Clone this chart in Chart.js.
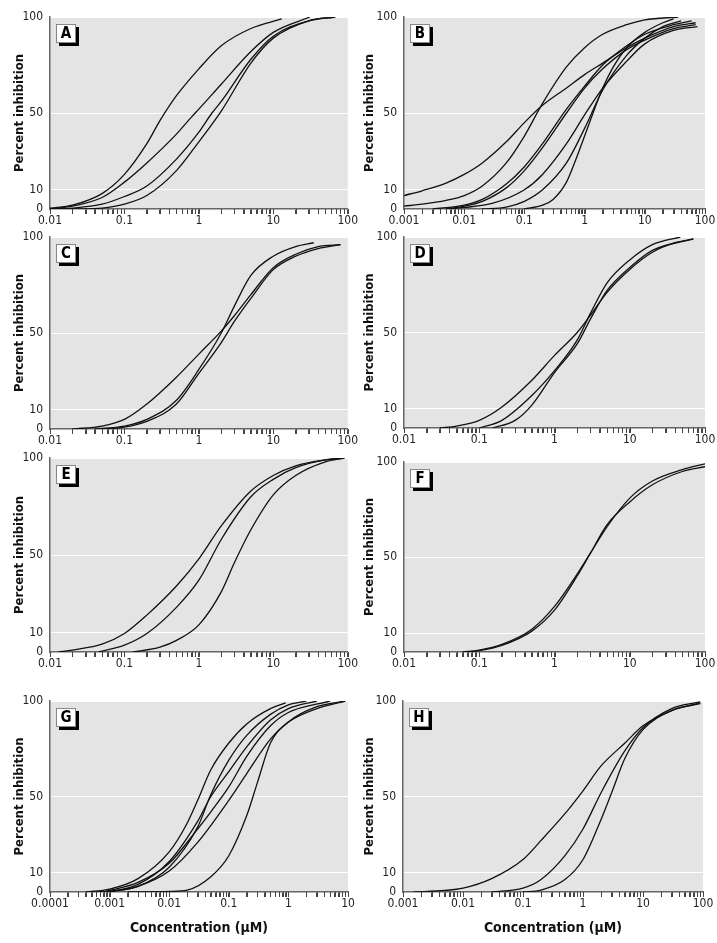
<!DOCTYPE html>
<html>
<head>
<meta charset="utf-8">
<script src="https://cdn.jsdelivr.net/npm/chart.js@4.4.0/dist/chart.umd.min.js"></script>
<style>
  body { margin: 0; background: #fff; }
  #fig { position: relative; width: 717px; height: 943px; }
  #fig canvas { position: absolute; }
</style>
</head>
<body>
<div id="fig"></div>
<script>
// tick labels (decades) for each panel's x axis, and the y ticks
const yTicks = [0, 10, 50, 100];
const xTicksA = [0.01, 0.1, 1, 10, 100];
const xTicksB = [0.001, 0.01, 0.1, 1, 10, 100];
const xTicksG = [0.0001, 0.001, 0.01, 0.1, 1, 10];

// each curve is [concentration (uM), percent inhibition]
const curvesA = [
  [[0.01,0.5],[0.02,2],[0.05,8],[0.1,18],[0.2,34],[0.3,46],[0.5,59],[1,73],[2,85],[5,94],[13,99]],
  [[0.01,0],[0.02,1.5],[0.05,6],[0.1,14],[0.2,24],[0.5,39],[0.8,48],[1,52],[2,65],[5,82],[10,92],[31,100]],
  [[0.01,0],[0.02,0.5],[0.05,2.5],[0.1,6.5],[0.2,12],[0.5,26],[1,40],[1.5,50],[2,56],[5,78],[10,90],[30,98],[68,100]],
  [[0.02,0],[0.05,0.5],[0.1,2.5],[0.2,7],[0.5,20],[1,35],[2,51],[5,76],[10,89],[30,98],[68,100]]
];
const curvesB = [
  [[0.001,7],[0.002,9.5],[0.005,13.5],[0.01,18],[0.02,24],[0.05,35],[0.1,45],[0.2,54],[0.5,63],[1,70],[2,76],[5,84],[10,89],[30,95],[70,97]],
  [[0.001,1.5],[0.002,2.5],[0.005,4.5],[0.01,7],[0.02,12],[0.05,24],[0.1,38],[0.2,55],[0.5,74],[1,84],[2,91],[5,96],[10,98.5],[36,100]],
  [[0.003,0],[0.01,2],[0.02,5],[0.05,13],[0.1,22],[0.2,34],[0.5,52],[1,64],[2,75],[5,85],[10,91],[30,96],[60,98]],
  [[0.005,0],[0.01,1.5],[0.02,4],[0.05,11],[0.1,20],[0.2,32],[0.5,50],[1,63],[2,73],[5,83],[10,88],[30,94],[70,96]],
  [[0.005,0],[0.01,0.8],[0.03,3],[0.1,10],[0.2,18],[0.5,34],[1,49],[2,63],[5,77],[10,86],[30,93],[75,95]],
  [[0.02,0],[0.05,1],[0.1,4],[0.2,10],[0.5,24],[1,42],[2,62],[5,80],[10,89],[20,95],[40,98]],
  [[0.1,0],[0.2,2],[0.3,5],[0.5,14],[0.7,25],[1,38],[1.5,53],[2,63],[3,74],[5,84],[10,92],[20,97],[30,99]]
];
const curvesC = [
  [[0.02,0],[0.05,1.5],[0.1,5],[0.2,13],[0.5,27],[1,39],[2,51],[3,59],[5,70],[10,84],[20,91],[40,95],[80,96]],
  [[0.04,0],[0.1,1.5],[0.2,5],[0.5,15],[1,31],[2,50],[3,64],[5,80],[10,90],[20,95],[35,97]],
  [[0.05,0],[0.1,1],[0.2,4],[0.5,13],[1,29],[2,45],[3,56],[5,68],[10,83],[20,90],[40,94],[80,96]]
];
const curvesD = [
  [[0.03,0],[0.05,1],[0.1,4],[0.2,11],[0.5,25],[1,38],[2,50],[3,59],[5,71],[10,83],[20,92],[40,97],[70,99]],
  [[0.1,0],[0.2,4],[0.5,17],[1,30],[2,46],[3,60],[5,76],[10,88],[20,96],[47,100]],
  [[0.15,0],[0.3,4],[0.5,12],[1,29],[2,44],[3,57],[5,72],[10,84],[20,93],[70,99]]
];
const curvesE = [
  [[0.013,0],[0.02,1],[0.05,4],[0.1,9.5],[0.2,19],[0.5,34],[1,48],[2,65],[5,83],[10,91],[20,96],[50,99],[90,100]],
  [[0.045,0],[0.1,3.5],[0.2,9.5],[0.5,23],[1,37],[2,58],[5,80],[10,89],[20,95],[50,99],[90,100]],
  [[0.13,0],[0.3,2.5],[0.5,6],[1,14],[2,31],[3,46],[5,63],[10,81],[20,91],[50,98],[90,100]]
];
const curvesF = [
  [[0.06,0],[0.1,1],[0.2,4],[0.5,12],[1,24],[2,41],[3,52],[5,66],[10,81],[20,90],[50,96],[100,99]],
  [[0.07,0],[0.1,0.7],[0.2,3.5],[0.5,11],[1,22],[2,40],[3,52],[5,67],[10,79],[20,88],[50,95],[100,97.5]]
];
const curvesG = [
  [[0.0004,0],[0.001,1.5],[0.003,7],[0.01,21],[0.02,36],[0.03,48],[0.05,64],[0.1,78],[0.2,88],[0.5,96],[0.9,99]],
  [[0.0006,0],[0.001,0.5],[0.003,3],[0.01,13],[0.03,34],[0.05,51],[0.1,69],[0.2,82],[0.5,93],[1,98],[2,100]],
  [[0.001,0],[0.003,4],[0.01,16],[0.03,37],[0.05,50],[0.1,63],[0.2,76],[0.5,90],[1,96],[3,100]],
  [[0.0008,0],[0.003,5],[0.01,15],[0.03,33],[0.05,42],[0.1,55],[0.2,71],[0.5,87],[1,94],[5,100]],
  [[0.001,0],[0.003,3],[0.01,11],[0.03,26],[0.1,48],[0.2,62],[0.5,80],[1,89],[3,96],[9,100]],
  [[0.002,0],[0.01,0.3],[0.02,1],[0.05,8],[0.1,19],[0.2,40],[0.3,57],[0.5,78],[1,89],[3,97],[9,100]]
];
const curvesH = [
  [[0.0015,0],[0.005,0.8],[0.01,2],[0.03,7],[0.1,17],[0.2,27],[0.5,41],[1,53],[2,66],[5,78],[10,87],[30,95],[90,99]],
  [[0.03,0],[0.1,2],[0.2,6.5],[0.5,19],[1,33],[2,52],[5,74],[10,86],[30,96],[90,99.5]],
  [[0.1,0],[0.2,1],[0.5,6.5],[1,17],[2,38],[3,52],[5,70],[10,85],[30,95],[90,98.6]]
];

const FONT = "'Liberation Sans Narrow', 'DejaVu Sans Condensed', 'Roboto', sans-serif";
const XTITLE = 'Concentration (\u03bcM)';

// panel placement on the page
const panels = [
  { letter: 'A', curves: curvesA, dec: xTicksA, left: 0,   top: 0,   w: 358, h: 232, padTop: 17, padRight: 9,  yW: 50, xH: 23, yTitlePad: 12 },
  { letter: 'B', curves: curvesB, dec: xTicksB, left: 355, top: 0,   w: 362, h: 232, padTop: 17, padRight: 12, yW: 49, xH: 23, yTitlePad: 7 },
  { letter: 'C', curves: curvesC, dec: xTicksA, left: 0,   top: 220, w: 358, h: 232, padTop: 17, padRight: 9,  yW: 50, xH: 23, yTitlePad: 12 },
  { letter: 'D', curves: curvesD, dec: xTicksA, left: 355, top: 220, w: 362, h: 232, padTop: 17, padRight: 12, yW: 49, xH: 24, yTitlePad: 7 },
  { letter: 'E', curves: curvesE, dec: xTicksA, left: 0,   top: 440, w: 358, h: 232, padTop: 18, padRight: 9,  yW: 50, xH: 20, yTitlePad: 12 },
  { letter: 'F', curves: curvesF, dec: xTicksA, left: 355, top: 440, w: 362, h: 232, padTop: 22, padRight: 12, yW: 49, xH: 20, yTitlePad: 7 },
  { letter: 'G', curves: curvesG, dec: xTicksG, left: 0,   top: 684, w: 358, h: 259, padTop: 17, padRight: 10, yW: 50, xH: 51, yTitlePad: 12, xTitle: true },
  { letter: 'H', curves: curvesH, dec: xTicksB, left: 355, top: 684, w: 362, h: 259, padTop: 17, padRight: 14, yW: 48, xH: 51, yTitlePad: 7, xTitle: true }
];

// grey plot background
const plotBg = {
  id: 'plotBg',
  beforeDraw(chart) {
    const { ctx, chartArea: a } = chart;
    ctx.save();
    ctx.fillStyle = '#e4e4e4';
    ctx.fillRect(a.left, a.top, a.right - a.left, a.bottom - a.top);
    ctx.restore();
  }
};

// short tick marks under the log axis, one per x tick
const xTickMarks = {
  id: 'xTickMarks',
  afterDraw(chart) {
    const s = chart.scales.x, ctx = chart.ctx;
    ctx.save();
    ctx.strokeStyle = '#444';
    ctx.lineWidth = 1;
    ctx.beginPath();
    s.ticks.forEach(t => {
      const px = Math.round(s.getPixelForValue(t.value)) + 0.5;
      ctx.moveTo(px, s.top);
      ctx.lineTo(px, s.top + 5);
    });
    ctx.stroke();
    ctx.restore();
  }
};

// boxed panel letter with drop shadow
const letterBox = {
  id: 'letterBox',
  afterDraw(chart, args, opts) {
    const { ctx, chartArea: a } = chart;
    const x = a.left + 6, y = a.top + 7, w = 20, h = 19;
    ctx.save();
    ctx.fillStyle = '#000';
    ctx.fillRect(x + 3, y + 3, w, h);
    ctx.fillStyle = '#fff';
    ctx.fillRect(x, y, w, h);
    ctx.strokeStyle = '#888';
    ctx.lineWidth = 1;
    ctx.strokeRect(x + 0.5, y + 0.5, w - 1, h - 1);
    ctx.fillStyle = '#000';
    ctx.font = "bold 15px " + FONT;
    ctx.textAlign = 'center';
    ctx.textBaseline = 'middle';
    ctx.fillText(opts.text, x + w / 2, y + h / 2 + 1);
    ctx.restore();
  }
};

function logTicks(dec) {
  const out = [];
  dec.forEach((d, i) => {
    if (i === dec.length - 1) { out.push(d); return; }
    for (let m = 1; m <= 9; m++) out.push(d * m);
  });
  return out;
}

const fig = document.getElementById('fig');

panels.forEach(p => {
  const canvas = document.createElement('canvas');
  canvas.width = p.w;
  canvas.height = p.h;
  canvas.style.left = p.left + 'px';
  canvas.style.top = p.top + 'px';
  fig.appendChild(canvas);

  const datasets = p.curves.map(c => ({
    data: c.map(([x, y]) => ({ x: x, y: y })),
    borderColor: '#111',
    borderWidth: 1.3,
    pointRadius: 0,
    fill: false,
    cubicInterpolationMode: 'monotone'
  }));

  new Chart(canvas, {
    type: 'line',
    data: { datasets: datasets },
    options: {
      responsive: false,
      animation: false,
      layout: { padding: { top: p.padTop, right: p.padRight, left: 0, bottom: 0 } },
      plugins: {
        legend: { display: false },
        tooltip: { enabled: false },
        letterBox: { text: p.letter }
      },
      scales: {
        x: {
          type: 'logarithmic',
          min: p.dec[0],
          max: p.dec[p.dec.length - 1],
          afterBuildTicks: s => { s.ticks = logTicks(p.dec).map(v => ({ value: v })); },
          afterFit: s => { s.height = p.xH; },
          grid: { drawOnChartArea: false, drawTicks: true, tickLength: 5, tickColor: '#444', tickWidth: 1 },
          border: { display: true, color: '#666', width: 1.5 },
          ticks: {
            autoSkip: false,
            maxRotation: 0,
            padding: 0,
            color: '#222',
            font: { family: FONT, size: 12 },
            callback: v => p.dec.includes(v) ? String(v) : ''
          },
          title: {
            display: !!p.xTitle,
            text: XTITLE,
            color: '#111',
            font: { family: FONT, size: 14, weight: 'bold' },
            padding: { top: 0, bottom: 6 }
          }
        },
        y: {
          type: 'linear',
          min: 0,
          max: 100,
          afterBuildTicks: s => { s.ticks = yTicks.map(v => ({ value: v })); },
          afterFit: s => { s.width = p.yW; },
          grid: {
            drawTicks: false,
            lineWidth: 1,
            color: c => (c.tick && c.tick.value > 0) ? '#ffffff' : 'rgba(0,0,0,0)'
          },
          border: { display: true, color: '#666', width: 1.5 },
          ticks: { padding: 7, color: '#222', font: { family: FONT, size: 12 } },
          title: {
            display: true,
            text: 'Percent inhibition',
            color: '#111',
            font: { family: FONT, size: 13, weight: 'bold' },
            padding: { top: p.yTitlePad, bottom: 0 }
          }
        }
      }
    },
    plugins: [plotBg, xTickMarks, letterBox]
  });
});
</script>
</body>
</html>
